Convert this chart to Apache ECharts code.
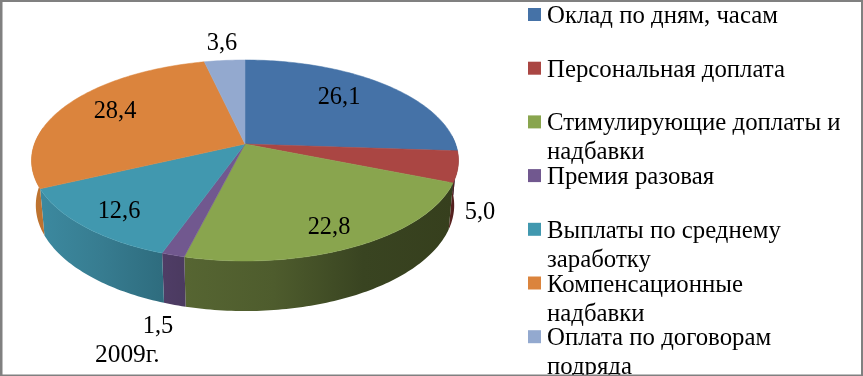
<!DOCTYPE html>
<html>
<head>
<meta charset="utf-8">
<style>
  html,body{margin:0;padding:0;background:#fff;}
  #chart{width:863px;height:376px;}
</style>
</head>
<body>
<div id="chart"></div>
<script src="https://cdn.jsdelivr.net/npm/echarts@6/dist/echarts.min.js"></script>
<script>
// данные
var categories = ['Оклад по дням, часам','Персональная доплата','Стимулирующие доплаты и\nнадбавки','Премия разовая','Выплаты по среднему\nзаработку','Компенсационные\nнадбавки','Оплата по договорам\nподряда']
var shares = [26.1, 5.0, 22.8, 1.5, 12.6, 28.4, 3.6]
var yearLabel = '2009г.'

// оформление
var topColors = ['#4572A7','#AA4643','#89A54E','#71588F','#4198AF','#DB843D','#93A9CF']
var wallColors = [
  ['#2f4d72','#2f4d72'],
  ['#5c2422','#4a1c1a'],
  ['#566532','#4e5c2d','#394421','#363f1d'],
  ['#4f3d66','#4b3a60'],
  ['#3c899f','#377c90','#2e6c7e'],
  ['#c0752f','#bb7030'],
  ['#6b7c99','#6b7c99']
]
var labelPos = [[339,98],[480,213],[329,228],[158,327],[119,212],[115,112],[222,44]]
var fontFamily = '"Liberation Serif","Times New Roman",serif'
var legendFont = 24.8
var labelFont = 24.4

// геометрия перспективы круга
var CX = 245, CY = 144, A = 210.6, B = 97.8, K = 0.164, H = 45.2, C = 0.02

function topPoint(deg){
  var r = deg*Math.PI/180, u = Math.sin(r), v = Math.cos(r), w = 1+K*v
  return [CX+A*u/w, CY-B*v/w]
}
function lowPoint(deg){
  var r = deg*Math.PI/180, u = Math.sin(r), v = Math.cos(r), w = 1+K*v+C
  return [CX+A*u/w, CY+(H-B*v)/w]
}

var total = shares.reduce(function(a,b){return a+b},0)
var angles = []
var acc = 0
shares.forEach(function(v){
  angles.push([acc/total*360,(acc+v)/total*360])
  acc += v
})

function arc(fn,a,b){
  var pts = []
  var n = Math.max(2,Math.ceil(Math.abs(b-a)))
  for(var i=0;i<=n;i++){
    pts.push(fn(a+(b-a)*i/n))
  }
  return pts
}

function renderWall(params,api){
  var i = api.value(0)
  // видна только передняя половина
  var a = Math.max(angles[i][0],85)
  var b = Math.min(angles[i][1],280)
  if(b <= a) return null
  var pts = arc(topPoint,a,b).concat(arc(lowPoint,b,a))
  var c = wallColors[i]
  var stops = c.map(function(col,j){return {offset:j/(c.length-1),color:col}})
  return {
    type:'polygon',
    shape:{points:pts},
    style:{fill:new echarts.graphic.LinearGradient(0,0,1,0,stops)}
  }
}

function renderTop(params,api){
  var i = api.value(0)
  var pts = [[CX,CY]].concat(arc(topPoint,angles[i][0],angles[i][1]))
  return {
    type:'polygon',
    shape:{points:pts},
    style:{fill:topColors[i],stroke:topColors[i],lineWidth:0.5}
  }
}

function renderLabel(params,api){
  var i = api.value(0)
  return {
    type:'text',
    x:labelPos[i][0],
    y:labelPos[i][1],
    style:{
      text:api.value(1).toFixed(1).replace('.',','),
      fill:'#000',
      font:labelFont+'px '+fontFamily,
      align:'center',
      verticalAlign:'middle'
    }
  }
}

var rows = shares.map(function(v,i){return [i,v]})

// легенда: квадрат и подпись с одинаковым шагом
var graphicEls = []
categories.forEach(function(name,i){
  var y = 8+i*53.7
  graphicEls.push({
    type:'rect',
    shape:{x:528,y:y,width:13,height:13},
    style:{fill:topColors[i]}
  })
  graphicEls.push({
    type:'text',
    x:547,
    y:y-6,
    style:{
      text:name,
      fill:'#000',
      font:legendFont+'px '+fontFamily,
      lineHeight:29,
      align:'left',
      verticalAlign:'top'
    }
  })
})
graphicEls.push({
  type:'text',
  x:95,
  y:355.5,
  style:{text:yearLabel,fill:'#000',font:'25.4px '+fontFamily,align:'left',verticalAlign:'middle'}
})
// рамка
var frame = [[0,0,863,2],[0,0,2.5,376],[861,0,2,376],[0,374.5,863,1.5]]
frame.forEach(function(f){
  graphicEls.push({
    type:'rect',
    shape:{x:f[0],y:f[1],width:f[2],height:f[3]},
    style:{fill:'#808080'}
  })
})

var myChart = echarts.init(document.getElementById('chart'))
myChart.setOption({
  animation:false,
  backgroundColor:'#fff',
  graphic:graphicEls,
  series:[
    {type:'custom',name:'walls',coordinateSystem:'none',z:1,data:rows,renderItem:renderWall,silent:true},
    {type:'custom',name:'tops',coordinateSystem:'none',z:2,data:rows,renderItem:renderTop,silent:true},
    {type:'custom',name:'labels',coordinateSystem:'none',z:3,data:rows,renderItem:renderLabel,silent:true}
  ]
})
</script>
</body>
</html>
